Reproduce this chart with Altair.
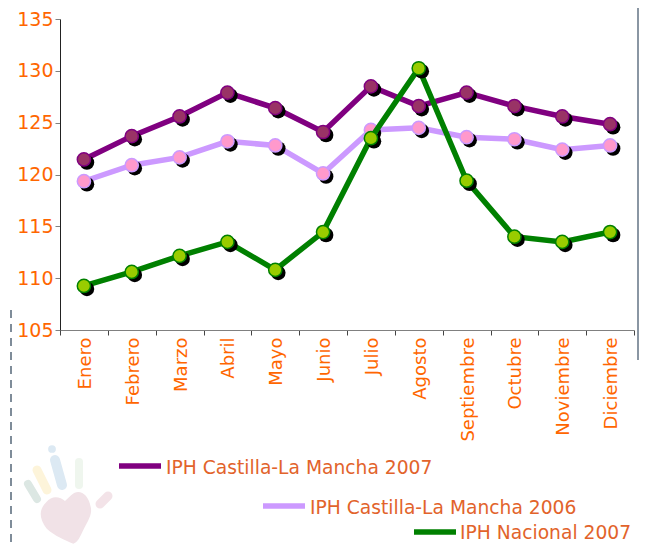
import altair as alt
import pandas as pd

meses = ["Enero", "Febrero", "Marzo", "Abril", "Mayo", "Junio", "Julio", "Agosto",
         "Septiembre", "Octubre", "Noviembre", "Diciembre"]
clm2007 = [121.45, 123.7, 125.6, 127.9, 126.4, 124.1, 128.5, 126.6, 127.9, 126.6, 125.6, 124.85]
clm2006 = [119.35, 120.9, 121.65, 123.2, 122.8, 120.1, 124.3, 124.5, 123.6, 123.4, 122.4, 122.8]
nac2007 = [109.25, 110.6, 112.15, 113.5, 110.8, 114.45, 123.5, 130.25, 119.4, 114.0, 113.5, 114.45]
yticks = [105, 110, 115, 120, 125, 130, 135]

ORANGE = "#FF6600"
LEG_TXT = "#E2632B"
FONT = "DejaVu Sans"

OX, OY = 60, 19   # page position of the plot origin
W, H = 574, 311


def px(x):
    return alt.value(x - OX)


def py(y):
    return alt.value(y - OY)


x_enc = alt.X("mes:N", sort=meses,
              scale=alt.Scale(type="band", domain=meses, paddingInner=0, paddingOuter=0),
              axis=alt.Axis(title=None, labelAngle=270, tickBand="extent", labelColor=ORANGE,
                            labelFont=FONT, labelFontSize=18, labelPadding=2, labelAlign="right",
                            labelBaseline="middle", labelOffset=1.5, domainColor="#808080",
                            tickColor="#444444", tickSize=5, grid=False, labelOverlap=False))
y_enc = alt.Y("v:Q", scale=alt.Scale(domain=[105, 135], nice=False),
              axis=alt.Axis(title=None, values=yticks, labelColor=ORANGE, labelFont=FONT,
                            labelFontSize=19, labelPadding=2, domainColor="#222222",
                            tickColor="#808080", tickSize=5, grid=False))


def series(vals, line, fill):
    d = pd.DataFrame({"mes": meses, "v": vals})
    base = alt.Chart(d).encode(x=x_enc, y=y_enc)
    return [
        base.mark_line(color=line, strokeWidth=5.5),
        base.mark_point(filled=True, color="black", size=214, opacity=1, xOffset=3, yOffset=3),
        base.mark_point(filled=True, fill=fill, stroke=line, strokeWidth=1.5, size=175, opacity=1),
    ]


def rule(x1, y1, x2, y2, color, width, cap="butt", dash=None):
    kw = {"strokeDash": dash} if dash else {}
    src = alt.Chart(pd.DataFrame({"a": [0]}))
    return src.mark_rule(color=color, strokeWidth=width, strokeCap=cap, **kw).encode(
        x=px(x1), x2=px(x2), y=py(y1), y2=py(y2))


def label(x, y, s):
    src = alt.Chart(pd.DataFrame({"a": [0]}))
    return src.mark_text(text=s, align="left", baseline="middle", font=FONT, fontSize=18.7,
                         color=LEG_TXT).encode(x=px(x), y=py(y))


HEART = ("M -0.02 -0.65 C -0.2 -0.8 -0.5 -0.9 -0.75 -0.6 C -1.05 -0.3 -1 0.05 -0.72 0.41 "
         "C -0.4 0.7 0 0.85 0.3 0.99 C 0.45 0.95 0.55 0.75 0.62 0.6 C 0.8 0.2 1.05 -0.1 0.97 -0.42 "
         "C 0.9 -0.8 0.7 -1 0.49 -1 C 0.3 -1 0.15 -0.8 -0.02 -0.65 Z")
src0 = alt.Chart(pd.DataFrame({"a": [0]}))
UP = 13  # the watermark is raised to stay inside the drawable page
decor = [
    rule(11, 310, 11, 544, "#7F8C99", 2, dash=[8, 6]),
    rule(638, 8, 638, 360, "#8A96A3", 2),
    rule(28, 497 - UP, 37, 512 - UP, "#DCE7E3", 8, "round"),
    rule(37, 483 - UP, 47, 503 - UP, "#FDF4DA", 9, "round"),
    rule(55, 473 - UP, 62, 498 - UP, "#DCE9F3", 10, "round"),
    rule(79, 475 - UP, 79, 498 - UP, "#EFF6EE", 8, "round"),
    rule(100, 517 - UP, 108, 509 - UP, "#F3E3E8", 9, "round"),
    src0.mark_point(filled=True, color="#DCE9F3", size=60, opacity=1).encode(x=px(52), y=py(462 - UP)),
    src0.mark_point(filled=True, shape=HEART, color="#F1E2E7", size=2704, opacity=1).encode(
        x=px(65.5), y=py(531 - UP)),
]

legend = [
    rule(119, 466, 161, 466, "#800080", 5.5), label(166, 468, "IPH Castilla-La Mancha 2007"),
    rule(263, 506, 305, 506, "#CC99FF", 5.5), label(310, 508, "IPH Castilla-La Mancha 2006"),
    rule(414, 532, 456, 532, "#008000", 5.5), label(460, 533, "IPH Nacional 2007"),
]

layers = decor + series(clm2007, "#800080", "#993366") + series(clm2006, "#CC99FF", "#FF99CC") \
    + series(nac2007, "#008000", "#99CC00") + legend

chart = alt.layer(*layers).properties(
    width=W, height=H,
    autosize=alt.AutoSizeParams(type="none"),
    padding={"left": OX - 8, "top": OY - 8, "right": 5, "bottom": 214},
    background="white",
).configure_view(stroke=None)

chart.save("out.html", embed_options={"renderer": "svg", "actions": False})
